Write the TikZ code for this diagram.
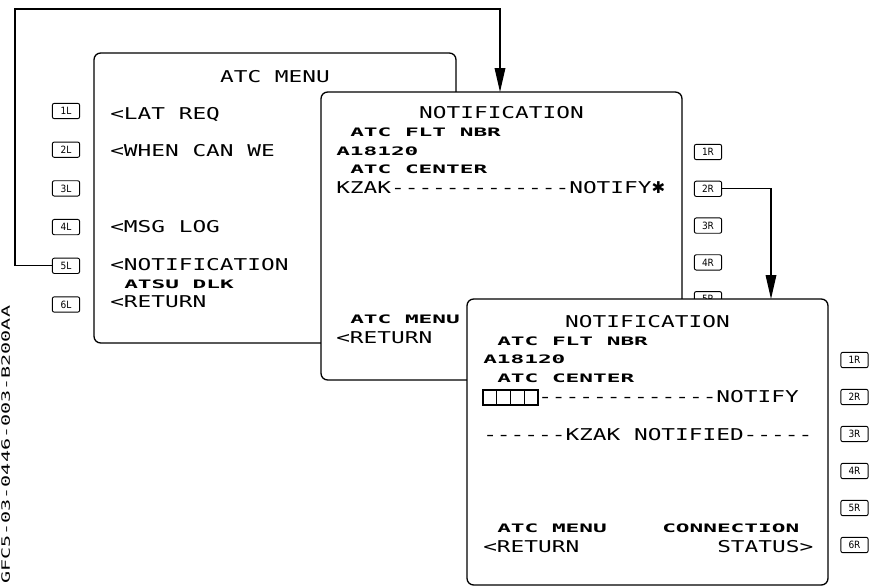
\documentclass[tikz,border=0pt]{standalone}
\usepackage{fontspec}
\usepackage{tikz}
\usetikzlibrary{arrows.meta,positioning,calc}
\newfontfamily\cdufamily[FakeStretch=1.4]{DejaVu Sans Mono}
\newfontfamily\cdusmfamily[FakeStretch=1.95]{DejaVu Sans Mono Bold}
\newfontfamily\tagfamily[FakeStretch=1.75]{DejaVu Sans Mono}
\newfontfamily\keyfamily{DejaVu Sans Condensed}
\newfontfamily\starfamily{DejaVu Sans}
\newcommand\cdubig{\cdufamily\fontsize{12.2}{14}\selectfont}
\newcommand\cdusmall{\cdusmfamily\fontsize{8.75}{10}\selectfont}
\newcommand\notifystar{{\starfamily ✱}}

\begin{document}
\begin{tikzpicture}[
  x=0.75pt, y=-0.75pt,
  screen/.style={draw, fill=white, rounded corners=5pt, line width=1pt},
  big/.style={font=\cdubig, anchor=base west, inner sep=0pt},
  small/.style={font=\cdusmall, anchor=base west, inner sep=0pt},
  title/.style={font=\cdubig, anchor=base, inner sep=0pt},
  lsk/.style={draw, rounded corners=1.5pt, line width=0.7pt, minimum width=20.5pt, minimum height=11.5pt, inner sep=0pt, font=\keyfamily\fontsize{7.5}{8}\selectfont},
  fieldbox/.style={draw, line width=0.8pt},
  arr/.style={-{Triangle[length=18pt,width=8pt]}, line width=0.9pt}
]
\useasboundingbox (0,0) rectangle (869,586);

% ATC MENU page
\draw[screen] (94,53) rectangle (456,343);
\foreach \i in {1,...,6}
  \node[lsk] (l\i) at (66,{111+(\i-1)*38.7}) {\i L};
\node[title] (m0) at (275,82) {ATC MENU};
\node[big] (m1) at (110,119) {<LAT REQ};
\node[big] (m2) at (110,156) {<WHEN CAN WE};
\node[big] (m4) at (110,232) {<MSG LOG};
\node[big] (m5) at (110,270) {<NOTIFICATION};
\node[small] (m5s) at (124,288) {ATSU DLK};
\node[big] (m6) at (110,307) {<RETURN};

% NOTIFICATION page (before notify)
\draw[screen] (321,92) rectangle (682,380);
\foreach \i in {1,...,6}
  \node[lsk] (r\i) at (708,{152+(\i-1)*36.8}) {\i R};
\node[title] (n0) at (501.5,118) {NOTIFICATION};
\node[small] (n1s) at (350,136) {ATC FLT NBR};
\node[small] (n1) at (336,155) {A18120};
\node[small] (n2s) at (350,173) {ATC CENTER};
\node[big] (n2) at (336,193) {KZAK-------------NOTIFY\notifystar};
\node[small] (n6s) at (350,323) {ATC MENU};
\node[big] (n6) at (336,343) {<RETURN};

\coordinate (c1) at (15,9);
\coordinate (t2) at (500,92);
\draw[arr] (l5.west) -| (c1) -| (t2);

% NOTIFICATION page (notified)
\draw[screen] (467,299) rectangle (828,585);
\foreach \i in {1,...,6}
  \node[lsk] (s\i) at (854.5,{360+(\i-1)*37}) {\i R};
\node[title] (p0) at (647.5,327) {NOTIFICATION};
\node[small] (p1s) at (497,345) {ATC FLT NBR};
\node[small] (p1) at (483,363) {A18120};
\node[small] (p2s) at (497,382) {ATC CENTER};
\foreach \j in {0,...,3}
  \draw[fieldbox] ({483+\j*13.75},390) rectangle ++(13.75,15);
\node[big] (p2) at (538,402) {-------------NOTIFY};
\node[big] (p3) at (483,440) {------KZAK NOTIFIED-----};
\node[small] (p6s) at (497,532) {ATC MENU};
\node[small] (q6s) at (662,532) {CONNECTION};
\node[big] (p6) at (483,552) {<RETURN};
\node[big] (q6) at (717,552) {STATUS>};

\coordinate (t3) at (771,299);
\draw[arr] (r2.east) -| (t3);

\node[font=\tagfamily\fontsize{8.6}{10}\selectfont, rotate=90, anchor=base west, inner sep=0pt] (tag) at (10,584) {GFC5-03-0446-003-B200AA};
\end{tikzpicture}
\end{document}
